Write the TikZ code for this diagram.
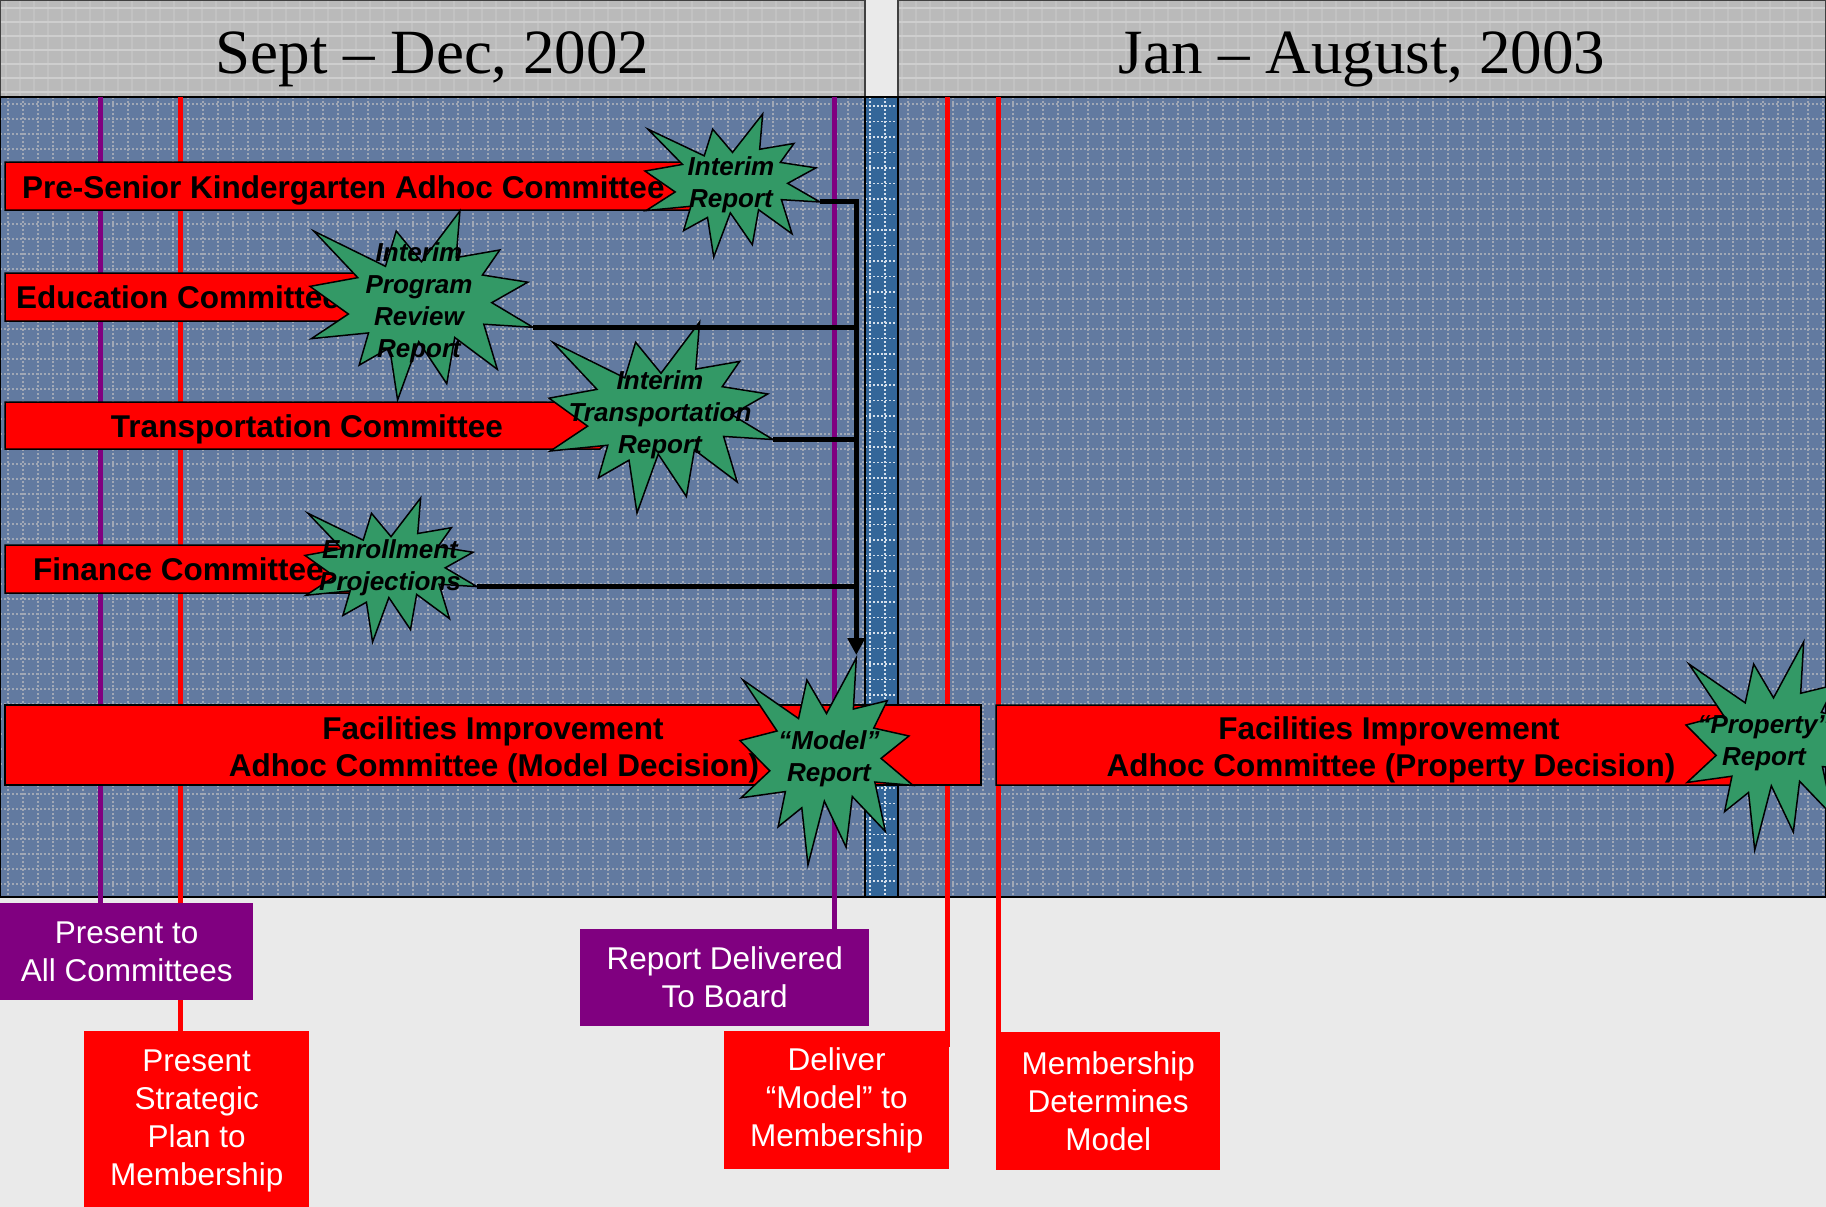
\documentclass[tikz,border=0pt]{standalone}
\usepackage{fontspec}
\setmainfont{Liberation Sans}
\newfontfamily\serifhead{Liberation Serif}
\usetikzlibrary{arrows.meta}
\pgfdeclarelayer{bglayer}
\pgfdeclarelayer{linelayer}
\pgfsetlayers{bglayer,linelayer,main}
\definecolor{bgc}{RGB}{234,234,234}
\definecolor{hdr}{RGB}{186,186,186}
\definecolor{hdrline}{RGB}{206,206,206}
\definecolor{bodyc}{RGB}{98,122,160}
\definecolor{gridc}{RGB}{160,168,182}
\definecolor{stripc}{RGB}{51,102,153}
\definecolor{pptred}{RGB}{255,0,0}
\definecolor{pptpurple}{RGB}{128,0,128}
\definecolor{stargreen}{RGB}{51,153,102}
\tikzset{
  explosion/.pic={
    \draw[starbody] (108,58) -- (145.22,0) -- (141.55,53.25) -- (183.80,44.57) -- (167.02,73.15)
      -- (210.97,81.37) -- (176.07,104.75) -- (216,132.90) -- (168.37,129.42) -- (181.45,180.95)
      -- (140.20,144.57) -- (132.47,197.37) -- (105.32,149.35) -- (84.85,216) -- (77.15,156.27)
      -- (47.62,176.17) -- (56.67,139.37) -- (1.35,145.87) -- (37.22,117.75) -- (0,86.15)
      -- (46.27,76.17) -- (3.70,22.95) -- (73.12,63.20) -- (83.52,22.95) -- cycle;
    \coordinate (-rs) at (216,132.90);
    \coordinate (-top) at (145.22,0);
  }
}
\begin{document}
\begin{tikzpicture}[x=1pt,y=-1pt,
  bar/.style={fill=pptred,draw=black,line width=1.5pt,line join=miter},
  bartext/.style={font=\fontsize{31.5}{37}\selectfont\bfseries,inner sep=0pt},
  startext/.style={font=\fontsize{26}{32}\selectfont\bfseries\itshape,align=center,inner sep=0pt},
  starbody/.style={fill=stargreen,draw=black,line width=1.5pt,line join=miter},
  conn/.style={line width=5pt,draw=black},
  vpurple/.style={line width=5pt,draw=pptpurple},
  vred/.style={line width=5pt,draw=pptred},
  notebox/.style={inner sep=0pt,anchor=north west,text=white,align=center,font=\fontsize{31.5}{38}\selectfont},
  gridline/.style={draw=gridc,line width=1.5pt,dash pattern=on 2pt off 2pt},
  stripgrid/.style={draw=white!80!stripc,line width=1.5pt,dash pattern=on 2pt off 2pt},
  hdrgrid/.style={draw=hdrline,line width=1.2pt},
  hdrtext/.style={font=\serifhead\fontsize{63}{70}\selectfont,inner sep=0pt,anchor=base},
  panelborder/.style={draw=black,line width=1.5pt}
]
\useasboundingbox (0,0) rectangle (1826,1207);
\begin{pgfonlayer}{bglayer}
\fill[bgc] (0,0) rectangle (1826,1207);

% headers
\fill[hdr] (0,0) rectangle (865,97);
\fill[hdr] (898,0) rectangle (1826,97);
\begin{scope}
  \clip (0,0) rectangle (865,97) (898,0) rectangle (1826,97);
  \foreach \y in {8,22,...,97} \draw[hdrgrid] (0,\y) -- (1826,\y);
  \foreach \x in {6,20,...,1826} \draw[hdrgrid,opacity=0.4] (\x,0) -- (\x,97);
\end{scope}
\draw[draw=gray!50!black,line width=1.5pt] (0,0) rectangle (865,97);
\draw[draw=gray!50!black,line width=1.5pt] (898,0) rectangle (1826,97);

% body panels
\fill[bodyc] (0,97) rectangle (865,897);
\fill[bodyc] (898,97) rectangle (1826,897);
\begin{scope}
  \clip (0,97) rectangle (865,897) (898,97) rectangle (1826,897);
  \foreach \x in {8,23,...,1826} \draw[gridline] (\x,97) -- (\x,897);
  \foreach \y in {104,119,...,897} \draw[gridline] (0,\y) -- (1826,\y);
\end{scope}
\fill[stripc] (865,97) rectangle (898,897);
\begin{scope}
  \clip (865,97) rectangle (898,897);
  \draw[stripgrid] (870,97) -- (870,897);
  \draw[stripgrid] (885,97) -- (885,897);
  \foreach \y in {106,121.5,...,897} \draw[stripgrid] (865,\y) -- (898,\y);
\end{scope}
\draw[panelborder] (0,97) rectangle (865,897);
\draw[panelborder] (865,97) rectangle (898,897);
\draw[panelborder] (898,97) rectangle (1826,897);
\end{pgfonlayer}

\node[hdrtext] (h1) at (432.5,74) {Sept – Dec, 2002};
\node[hdrtext] (h2) at (1362,74) {Jan – August, 2003};

% milestone boxes
\node[notebox,fill=pptpurple,minimum width=253,minimum height=97] (b1) at (0,903) {Present to\\All Committees};
\node[notebox,fill=pptred,minimum width=225,minimum height=180] (b2) at (84,1031) {Present\\Strategic\\Plan to\\Membership};
\node[notebox,fill=pptpurple,minimum width=289,minimum height=97] (b3) at (580,929) {Report Delivered\\To Board};
\node[notebox,fill=pptred,minimum width=225,minimum height=138] (b4) at (724,1031) {Deliver\\“Model” to\\Membership};
\node[notebox,fill=pptred,minimum width=224,minimum height=138] (b5) at (996,1032) {Membership\\Determines\\Model};

% vertical milestone lines (under boxes and bars)
\coordinate (l1) at (100,97);
\coordinate (l2) at (180,97);
\coordinate (l3) at (834,97);
\coordinate (l4) at (947,97);
\coordinate (l5) at (998,97);
\begin{pgfonlayer}{linelayer}
\draw[vpurple] (l1) -- (l1 |- b1.north);
\draw[vred] (l2) -- (l2 |- b2.north);
\draw[vpurple] (l3) -- (l3 |- b3.north);
\draw[vred] (l4) -- (l4 |- b4.north) -- ++(0,16);
\draw[vred] (l5) -- (l5 |- b5.north) -- ++(0,16);
\end{pgfonlayer}

% committee bars
\draw[bar] (5,162) -- (690,162) -- (714,186) -- (690,210) -- (5,210) -- cycle;
\draw[bar] (5,273) -- (380,273) -- (404,297) -- (380,321) -- (5,321) -- cycle;
\draw[bar] (5,402) -- (600,402) -- (624,425.5) -- (600,449) -- (5,449) -- cycle;
\draw[bar] (5,545) -- (350,545) -- (374,569) -- (350,593) -- (5,593) -- cycle;
\draw[bar] (5,705) rectangle (981,785);
\draw[bar] (996,705) -- (1740,705) -- (1780,745) -- (1740,785) -- (996,785) -- cycle;

\node[bartext,anchor=base west] (t1) at (22,198) {Pre-Senior Kindergarten Adhoc Committee};
\node[bartext,anchor=base west] (t2) at (16,308.5) {Education Committee};
\node[bartext,anchor=base] (t3) at (307,437) {Transportation Committee};
\node[bartext,anchor=base west] (t4) at (33,580.5) {Finance Committee};
\node[bartext,anchor=base] (f1a) at (493,739.5) {Facilities Improvement};
\node[bartext,anchor=base] (f1b) at (494,776.5) {Adhoc Committee (Model Decision)};
\node[bartext,anchor=base] (f2a) at (1389,739.5) {Facilities Improvement};
\node[bartext,anchor=base] (f2b) at (1391,776.5) {Adhoc Committee (Property Decision)};

% starbursts (shapes)
\pic[xscale=175/216,yscale=143/216] (s1) at (645,114) {explosion};
\pic[xscale=223/216,yscale=189/216] (s2) at (310,211) {explosion};
\pic[xscale=224/216,yscale=191/216] (s3) at (549,322) {explosion};
\pic[xscale=172/216,yscale=144/216] (s4) at (305,498) {explosion};
\pic[xscale=173/216,yscale=207/216] (s5) at (740,658) {explosion};
\pic[xscale=175/216,yscale=208/216] (s6) at (1686,642) {explosion};

% connectors
\draw[conn,-{Triangle[length=17pt,width=17pt]},shorten >=3pt] (s1-rs) -| (s5-top);
\draw[conn] (s2-rs) -- (s2-rs -| s5-top);
\draw[conn] (s3-rs) -- (s3-rs -| s5-top);
\draw[conn] (s4-rs) -- (s4-rs -| s5-top);

% starburst texts
\node[startext] (r1) at (731,185) {Interim\\Report};
\node[startext] (r2) at (419,303) {Interim\\Program\\Review\\Report};
\node[startext] (r3) at (660,415) {Interim\\Transportation\\Report};
\node[startext] (r4) at (390,568) {Enrollment\\Projections};
\node[startext] (r5) at (829,759) {“Model”\\Report};
\node[startext] (r6) at (1764,743) {“Property”\\Report};
\end{tikzpicture}
\end{document}
